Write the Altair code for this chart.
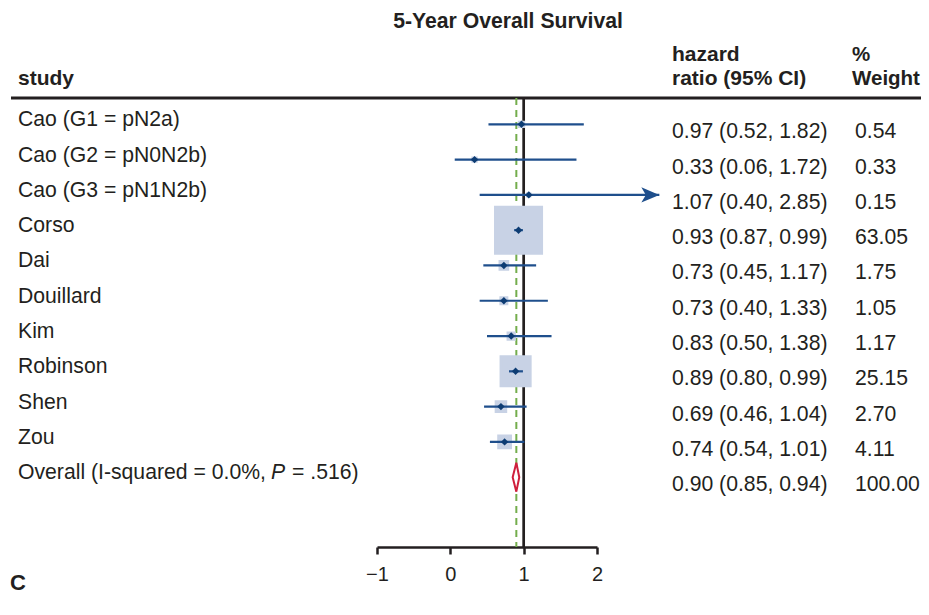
import altair as alt
import pandas as pd

# ---------------- data ----------------
studies = ["Cao (G1 = pN2a)", "Cao (G2 = pN0N2b)", "Cao (G3 = pN1N2b)", "Corso", "Dai",
           "Douillard", "Kim", "Robinson", "Shen", "Zou"]
hr = [0.97, 0.33, 1.07, 0.93, 0.73, 0.73, 0.83, 0.89, 0.69, 0.74]
lo = [0.52, 0.06, 0.40, 0.87, 0.45, 0.40, 0.50, 0.80, 0.46, 0.54]
hi = [1.82, 1.72, 2.85, 0.99, 1.17, 1.33, 1.38, 0.99, 1.04, 1.01]
wt = [0.54, 0.33, 0.15, 63.05, 1.75, 1.05, 1.17, 25.15, 2.70, 4.11]

overall_hr = 0.90
overall_lo = 0.85
overall_hi = 0.94
overall_wt = 100.00
overall_label = ["Overall (I-squared = 0.0%,", "P", "= .516)"]

x_ticks = [-1, 0, 1, 2]
null_value = [1]

title_text = "5-Year Overall Survival"
panel_letter = "C"

# ---------------- tables ----------------
n = len(studies)
df = pd.DataFrame({"study": studies, "row": list(range(n)), "hr": hr, "lo": lo, "hi": hi, "wt": wt})
ov_row = n
txt = pd.DataFrame({
    "row": list(range(n)) + [ov_row],
    "hrtxt": [f"{a:.2f} ({b:.2f}, {c:.2f})" for a, b, c in zip(hr + [overall_hr], lo + [overall_lo], hi + [overall_hi])],
    "wttxt": [f"{w:.2f}" for w in wt + [overall_wt]],
})
HALF = 0.41
dia = pd.DataFrame({
    "x": [overall_lo, overall_hr, overall_hi],
    "y": [ov_row, ov_row - HALF, ov_row],
    "y2": [ov_row, ov_row + HALF, ov_row],
})
ovdf = pd.DataFrame({"row": [ov_row], "hr": [overall_hr]})
ref = pd.DataFrame({"x": null_value})
one = pd.DataFrame({"a": [0]})

# ---------------- styling ----------------
FONT = "Liberation Sans"
TXT = "#231f20"
FS = 21.2
W, H = 220, 449
xscale = alt.Scale(domain=[-1, 2], nice=False, zero=False)
yscale = alt.Scale(domain=[-0.7453, 11.978], nice=False, zero=False, reverse=True)
xaxis = alt.Axis(values=x_ticks, grid=False, title=None, format="d",
                 domainColor=TXT, domainWidth=2.5, tickColor=TXT, tickWidth=2.5, tickSize=7,
                 labelFont=FONT, labelFontSize=20, labelColor=TXT, labelPadding=10,
                 labelFlush=False, labelOverlap=False)


def X(field):
    return alt.X(f"{field}:Q", scale=xscale, axis=xaxis, title=None)


def Y(field="row"):
    return alt.Y(f"{field}:Q", scale=yscale, axis=None, title=None)


layers = []

# header rule
layers.append(alt.Chart(one).mark_rule(color=TXT, strokeWidth=3).encode(
    x=alt.value(-366), x2=alt.value(544), y=alt.value(0)))

# null line
layers.append(alt.Chart(ref).mark_rule(color=TXT, strokeWidth=2.7).encode(
    x=X("x"), y=alt.value(0), y2=alt.value(H)))

# overall dashed line
layers.append(alt.Chart(ovdf).mark_rule(color="#74ad4c", strokeWidth=2, strokeDash=[7, 5]).encode(
    x=X("hr"), y=alt.value(0), y2=alt.value(H)))

# weight boxes
layers.append(alt.Chart(df).mark_square(color="#c8d2e5", stroke="#c8d2e5", strokeWidth=3, opacity=1).encode(
    x=X("hr"), y=Y(),
    size=alt.Size("wt:Q", scale=alt.Scale(type="linear", domain=[0, 100], range=[0, 3364]), legend=None)))

# CI lines
layers.append(alt.Chart(df).mark_rule(color="#1f4f8c", strokeWidth=2.2).encode(
    x=X("lo"), x2="hi:Q", y=Y()))

# arrows for CIs beyond the axis
layers.append(alt.Chart(df[df["hi"] > max(x_ticks)]).mark_point(
    shape="M0,0L-1,-0.42L-0.75,0L-1,0.42Z", filled=True, size=1296, color="#1f4f8c", opacity=1).encode(
    x=X("hi"), y=Y()))

# point estimates
layers.append(alt.Chart(df).mark_point(shape="diamond", filled=True, size=55, color="#0d3c73", opacity=1).encode(
    x=X("hr"), y=Y()))

# overall diamond
layers.append(alt.Chart(dia).mark_area(fill="white", stroke="#cf1f3c", strokeWidth=2, opacity=1).encode(
    x=X("x"), y=Y("y"), y2="y2:Q"))

# left labels
layers.append(alt.Chart(df).mark_text(align="left", baseline="alphabetic", dy=2, font=FONT, fontSize=FS,
                                      color=TXT).encode(
    x=alt.value(-359), y=Y(), text="study:N"))

# overall label pieces
ovl = pd.DataFrame({"row": [ov_row], "t1": [overall_label[0]], "t2": [overall_label[1]], "t3": [overall_label[2]]})
layers.append(alt.Chart(ovl).mark_text(align="left", baseline="alphabetic", dy=2, font=FONT, fontSize=FS,
                                       color=TXT).encode(x=alt.value(-359), y=Y(), text="t1:N"))
layers.append(alt.Chart(ovl).mark_text(align="left", baseline="alphabetic", dy=2, font=FONT, fontSize=FS,
                                       fontStyle="italic", color=TXT).encode(x=alt.value(-106), y=Y(), text="t2:N"))
layers.append(alt.Chart(ovl).mark_text(align="left", baseline="alphabetic", dy=2, font=FONT, fontSize=FS,
                                       color=TXT).encode(x=alt.value(-85), y=Y(), text="t3:N"))

# right columns
layers.append(alt.Chart(txt).mark_text(align="left", baseline="alphabetic", dy=14, font=FONT, fontSize=FS,
                                       color=TXT).encode(x=alt.value(295), y=Y(), text="hrtxt:N"))
layers.append(alt.Chart(txt).mark_text(align="left", baseline="alphabetic", dy=14, font=FONT, fontSize=FS,
                                       color=TXT).encode(x=alt.value(478), y=Y(), text="wttxt:N"))

# headers
hdr = pd.DataFrame({
    "t": ["study", "hazard", "ratio (95% CI)", "%", "Weight"],
    "px": [-359, 295, 295, 475, 475],
    "py": [-13, -37, -13, -37, -13],
    "fs": [21, 21, 21, 20.5, 20.5],
})
for _, r in hdr.iterrows():
    layers.append(alt.Chart(one).mark_text(align="left", baseline="alphabetic", font=FONT, fontSize=float(r["fs"]),
                                           fontWeight="bold", color=TXT, text=r["t"]).encode(
        x=alt.value(float(r["px"])), y=alt.value(float(r["py"]))))

# title
layers.append(alt.Chart(one).mark_text(align="center", baseline="alphabetic", font=FONT, fontSize=21.2,
                                       fontWeight="bold", color=TXT, text=title_text).encode(
    x=alt.value(131), y=alt.value(-70)))

# panel letter
layers.append(alt.Chart(one).mark_text(align="left", baseline="alphabetic", font=FONT, fontSize=22,
                                       fontWeight="bold", color=TXT, text=panel_letter).encode(
    x=alt.value(-367), y=alt.value(492)))

chart = alt.layer(*layers).properties(
    width=W, height=H,
    autosize=alt.AutoSizeParams(type="none"),
    padding={"left": 369, "top": 90, "right": 324, "bottom": 51},
    background="white",
).configure_view(stroke=None)

chart.save("out.html", embed_options={"renderer": "svg", "actions": False})
